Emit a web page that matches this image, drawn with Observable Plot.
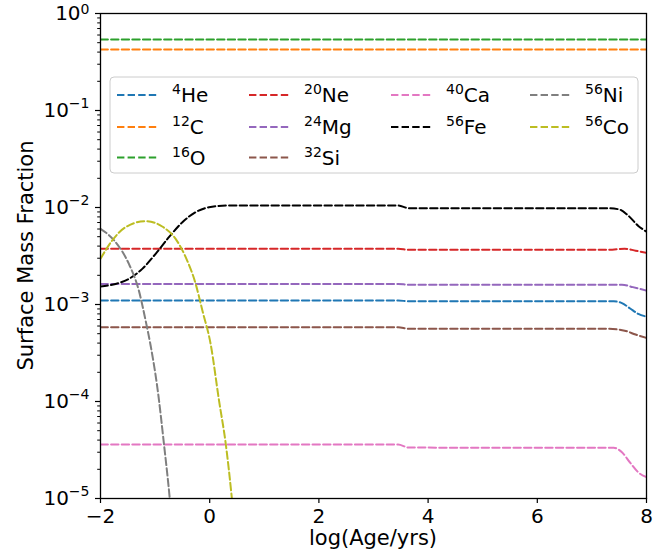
<!DOCTYPE html>
<html>
<head>
<meta charset="utf-8">
<script src="https://cdn.jsdelivr.net/npm/d3@7"></script>
<script src="https://cdn.jsdelivr.net/npm/@observablehq/plot@0.6"></script>
<style>
  html, body { margin: 0; padding: 0; background: #fff; }
  #chart { width: 671px; height: 556px; }
</style>
</head>
<body>
<div id="chart"></div>
<script>
// ---- data (log age in yrs, surface mass fraction) ----
const species = ["He", "C", "O", "Ne", "Mg", "Si", "Ca", "Fe", "Ni", "Co"];
const massNumbers = ["4", "12", "16", "20", "24", "32", "40", "56", "56", "56"];
const colors = ["#1f77b4", "#ff7f0e", "#2ca02c", "#d62728", "#9467bd", "#8c564b", "#e377c2", "#000000", "#7f7f7f", "#bcbd22"];

const ageHe = [-2, 3.45, 3.65, 7.4, 7.55, 7.7, 7.85, 8];
const fracHe = [1.10e-3, 1.10e-3, 1.08e-3, 1.08e-3, 1.035e-3, 9.1e-4, 8.0e-4, 7.5e-4];

const ageC = [-2, 8];
const fracC = [0.425, 0.425];

const ageO = [-2, 8];
const fracO = [0.54, 0.54];

const ageNe = [-2, 3.45, 3.65, 7.3, 7.6, 7.8, 8];
const fracNe = [3.75e-3, 3.75e-3, 3.66e-3, 3.66e-3, 3.76e-3, 3.59e-3, 3.41e-3];

const ageMg = [-2, 3.45, 3.65, 7.55, 7.75, 8];
const fracMg = [1.63e-3, 1.63e-3, 1.60e-3, 1.60e-3, 1.51e-3, 1.39e-3];

const ageSi = [-2, 3.45, 3.65, 7.3, 7.6, 7.8, 8];
const fracSi = [5.83e-4, 5.83e-4, 5.61e-4, 5.61e-4, 5.37e-4, 4.9e-4, 4.53e-4];

const ageCa = [-2, 3.45, 3.65, 7.4, 7.55, 7.7, 7.85, 8];
const fracCa = [3.6e-5, 3.6e-5, 3.35e-5, 3.33e-5, 3.0e-5, 2.34e-5, 1.86e-5, 1.66e-5];

const ageFe = [-2, -1.725, -1.48, -1.235, -0.99, -0.747, -0.5, -0.257, -0.013, 0.35, 3.45, 3.65, 7.3, 7.5, 7.66, 7.85, 8];
const fracFe = [1.53e-3, 1.63e-3, 1.84e-3, 2.33e-3, 3.33e-3, 4.94e-3, 7.06e-3, 8.95e-3, 1.007e-2, 1.05e-2, 1.05e-2, 9.84e-3, 9.84e-3, 9.55e-3, 8.3e-3, 6.46e-3, 5.62e-3];

const ageNi = [-2, -1.725, -1.48, -1.297, -1.174, -1.083, -0.96, -0.838, -0.734, -0.7];
const fracNi = [6.03e-3, 4.40e-3, 2.62e-3, 1.39e-3, 6.84e-4, 3.8e-4, 1.41e-4, 3.66e-5, 1.03e-5, 6.3e-6];

const ageCo = [-2, -1.786, -1.54, -1.174, -0.87, -0.624, -0.44, -0.257, -0.134, 0.018, 0.171, 0.294, 0.404, 0.45];
const fracCo = [2.96e-3, 4.57e-3, 6.27e-3, 7.23e-3, 6.37e-3, 4.75e-3, 3.08e-3, 1.63e-3, 8.67e-4, 3.89e-4, 1.02e-4, 3.66e-5, 1.03e-5, 5.6e-6];

const xTicks = [-2, 0, 2, 4, 6, 8];
const yTicks = [1, 1e-1, 1e-2, 1e-3, 1e-4, 1e-5];
const yTickExp = ["0", "−1", "−2", "−3", "−4", "−5"];

// ---- build table ----
const ages = {He: ageHe, C: ageC, O: ageO, Ne: ageNe, Mg: ageMg, Si: ageSi, Ca: ageCa, Fe: ageFe, Ni: ageNi, Co: ageCo};
const fracs = {He: fracHe, C: fracC, O: fracO, Ne: fracNe, Mg: fracMg, Si: fracSi, Ca: fracCa, Fe: fracFe, Ni: fracNi, Co: fracCo};
const rows = [];
species.forEach(s => ages[s].forEach((a, i) => rows.push({species: s, age: a, frac: fracs[s][i]})));

const minorTicks = [];
for (let e = -5; e < 0; e++) for (let m = 2; m <= 9; m++) minorTicks.push(m * Math.pow(10, e));

const dash = "7.4,3.2";
const W = 671, H = 556;
const mL = 100, mR = 25, mT = 13, mB = 58;
const FONT = "'DejaVu Sans', sans-serif";

const chart = Plot.plot({
  width: W, height: H,
  marginLeft: mL, marginRight: mR, marginTop: mT, marginBottom: mB,
  style: {fontFamily: FONT, fontSize: "20px", background: "white", color: "black"},
  x: {domain: [-2, 8]},
  y: {type: "log", domain: [1e-5, 1]},
  color: {domain: species, range: colors},
  marks: [
    Plot.line(rows, {x: "age", y: "frac", z: "species", stroke: "species", strokeWidth: 2, strokeDasharray: dash, curve: "monotone-x", clip: true}),
    Plot.axisY({ticks: minorTicks, tickSize: 2.8, tickFormat: null, label: null, text: null, strokeWidth: 1}),
    Plot.axisY({ticks: yTicks, tickSize: 5, tickPadding: 6, tickFormat: d => "10^" + yTickExp[yTicks.indexOf(d)], label: null, strokeWidth: 1.2}),
    Plot.axisX({ticks: xTicks, tickSize: 5, tickPadding: 5, tickFormat: d => d < 0 ? "−" + Math.abs(d) : String(d), label: null, strokeWidth: 1.2}),
    Plot.frame({stroke: "black", strokeWidth: 1.3})
  ]
});

document.getElementById("chart").appendChild(chart);

const svg = d3.select(chart);

// superscript tick labels
svg.selectAll("g[aria-label='y-axis tick label'] text").each(function() {
  const t = d3.select(this);
  const txt = t.text();
  if (txt.indexOf("^") < 0) return;
  const [base, exp] = txt.split("^");
  t.text(null);
  t.append("tspan").text(base);
  t.append("tspan").attr("dy", exp === "0" ? "-6" : "-8.5").attr("font-size", "14px").text(exp);
});

// axis labels
svg.append("text")
  .attr("x", (mL + W - mR) / 2).attr("y", 545)
  .attr("text-anchor", "middle")
  .attr("font-family", FONT).attr("font-size", "21px")
  .text("log(Age/yrs)");
svg.append("text")
  .attr("transform", `translate(33,${(mT + H - mB) / 2}) rotate(-90)`)
  .attr("text-anchor", "middle")
  .attr("font-family", FONT).attr("font-size", "21px")
  .text("Surface Mass Fraction");

// legend inside the axes
const legend = svg.append("g").attr("font-family", FONT).attr("font-size", "20px").attr("text-anchor", "start");
legend.append("rect")
  .attr("x", 110).attr("y", 77).attr("width", 528).attr("height", 96).attr("rx", 4)
  .attr("fill", "white").attr("fill-opacity", 0.8).attr("stroke", "#cccccc").attr("stroke-width", 1);
const colX = [117, 249, 391, 530];
const rowY = [95, 127, 157.5];
const layout = [[0, 1, 2], [3, 4, 5], [6, 7], [8, 9]];
layout.forEach((col, ci) => col.forEach((si, ri) => {
  const x = colX[ci], y = rowY[ri];
  legend.append("line")
    .attr("x1", x).attr("x2", x + 40).attr("y1", y).attr("y2", y)
    .attr("stroke", colors[si]).attr("stroke-width", 2).attr("stroke-dasharray", dash);
  const t = legend.append("text").attr("x", x + 55).attr("y", y + 7).attr("text-anchor", "start");
  t.append("tspan").attr("font-size", "14px").attr("dy", "-8").text(massNumbers[si]);
  t.append("tspan").attr("dy", "8").text(species[si]);
}));
</script>
</body>
</html>
